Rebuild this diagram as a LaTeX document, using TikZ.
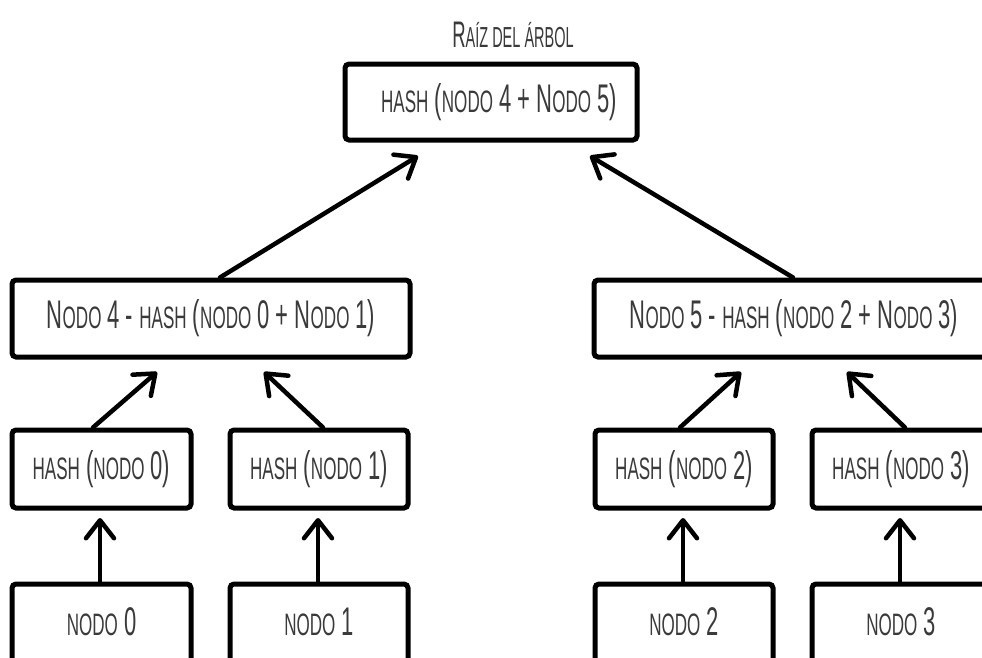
\documentclass[tikz,border=0pt]{standalone}
\usepackage{fontspec}
\setmainfont[FakeStretch=0.55]{Liberation Sans}
\newfontfamily\titlefont[FakeStretch=0.5]{Liberation Sans}
\usetikzlibrary{arrows.meta}
\newcommand{\s}[1]{{\fontsize{31}{34}\selectfont\MakeUppercase{#1}}}
\newcommand{\ts}[1]{{\fontsize{29}{32}\selectfont\MakeUppercase{#1}}}
\definecolor{txt}{HTML}{3a3a3a}
\tikzset{
  box/.style={draw=black, line width=5pt, rounded corners=4pt, inner sep=0pt,
    font=\fontsize{40}{44}\selectfont, text=txt},
  lbl/.style={text=txt, font=\fontsize{40}{44}\selectfont},
  arr/.style={line width=4.5pt, line cap=round, -{Straight Barb[length=18pt,width=28pt,round]}},
}
\begin{document}
\begin{tikzpicture}[x=1pt,y=-1pt]
\useasboundingbox (0,0) rectangle (982,657);
\clip (0,0) rectangle (982,657);
\node[text=txt, font=\titlefont\fontsize{37}{40}\selectfont] (title) at (513,35) {R\ts{aíz del árbol}};
\node[box, minimum width=292pt, minimum height=76pt] (root) at (491,102) {\hspace*{16pt}\s{hash} (\s{nodo} 4 + N\s{odo} 5)};
\node[box, minimum width=398pt, minimum height=77pt] (n4) at (211,318.5) {N\s{odo} 4 - \s{hash} (\s{nodo} 0 + N\s{odo} 1)};
\node[box, minimum width=400pt, minimum height=77pt] (n5) at (794,318.5) {N\s{odo} 5 - \s{hash} (\s{nodo} 2 + N\s{odo} 3)};
\node[box, minimum width=179pt, minimum height=78pt] (h0) at (101.5,469) {\s{hash} (\s{nodo} 0)};
\node[box, minimum width=178pt, minimum height=78pt] (h1) at (319,469) {\s{hash} (\s{nodo} 1)};
\node[box, minimum width=178pt, minimum height=78pt] (h2) at (684,469) {\s{hash} (\s{nodo} 2)};
\node[box, minimum width=178pt, minimum height=78pt] (h3) at (901,469) {\s{hash} (\s{nodo} 3)};
\node[box, minimum width=179pt, minimum height=120pt] (b0) at (101.5,644) {};
\node[box, minimum width=178pt, minimum height=120pt] (b1) at (319,644) {};
\node[box, minimum width=178pt, minimum height=120pt] (b2) at (684,644) {};
\node[box, minimum width=178pt, minimum height=120pt] (b3) at (901,644) {};
\node[lbl] (t0) at (101.5,622) {\s{nodo} 0};
\node[lbl] (t1) at (319,622) {\s{nodo} 1};
\node[lbl] (t2) at (684,622) {\s{nodo} 2};
\node[lbl] (t3) at (901,622) {\s{nodo} 3};
\coordinate (r1) at (418,156);
\coordinate (r2) at (590,156);
\coordinate (a0) at (157,372);
\coordinate (a1) at (264,372);
\coordinate (a2) at (741,372);
\coordinate (a3) at (847,372);
\draw[arr] (n4.north -| 220,0) -- (r1);
\draw[arr] (n5.north -| 793,0) -- (r2);
\draw[arr] (h0.north -| 93,0) -- (a0);
\draw[arr] (h1.north -| 323,0) -- (a1);
\draw[arr] (h2.north -| 680,0) -- (a2);
\draw[arr] (h3.north -| 905,0) -- (a3);
\draw[arr] (b0.north -| 100,0) -- (100,518);
\draw[arr] (b1.north -| 318,0) -- (318,518);
\draw[arr] (b2.north -| 683,0) -- (683,518);
\draw[arr] (b3.north -| 900,0) -- (900,518);
\end{tikzpicture}
\end{document}
